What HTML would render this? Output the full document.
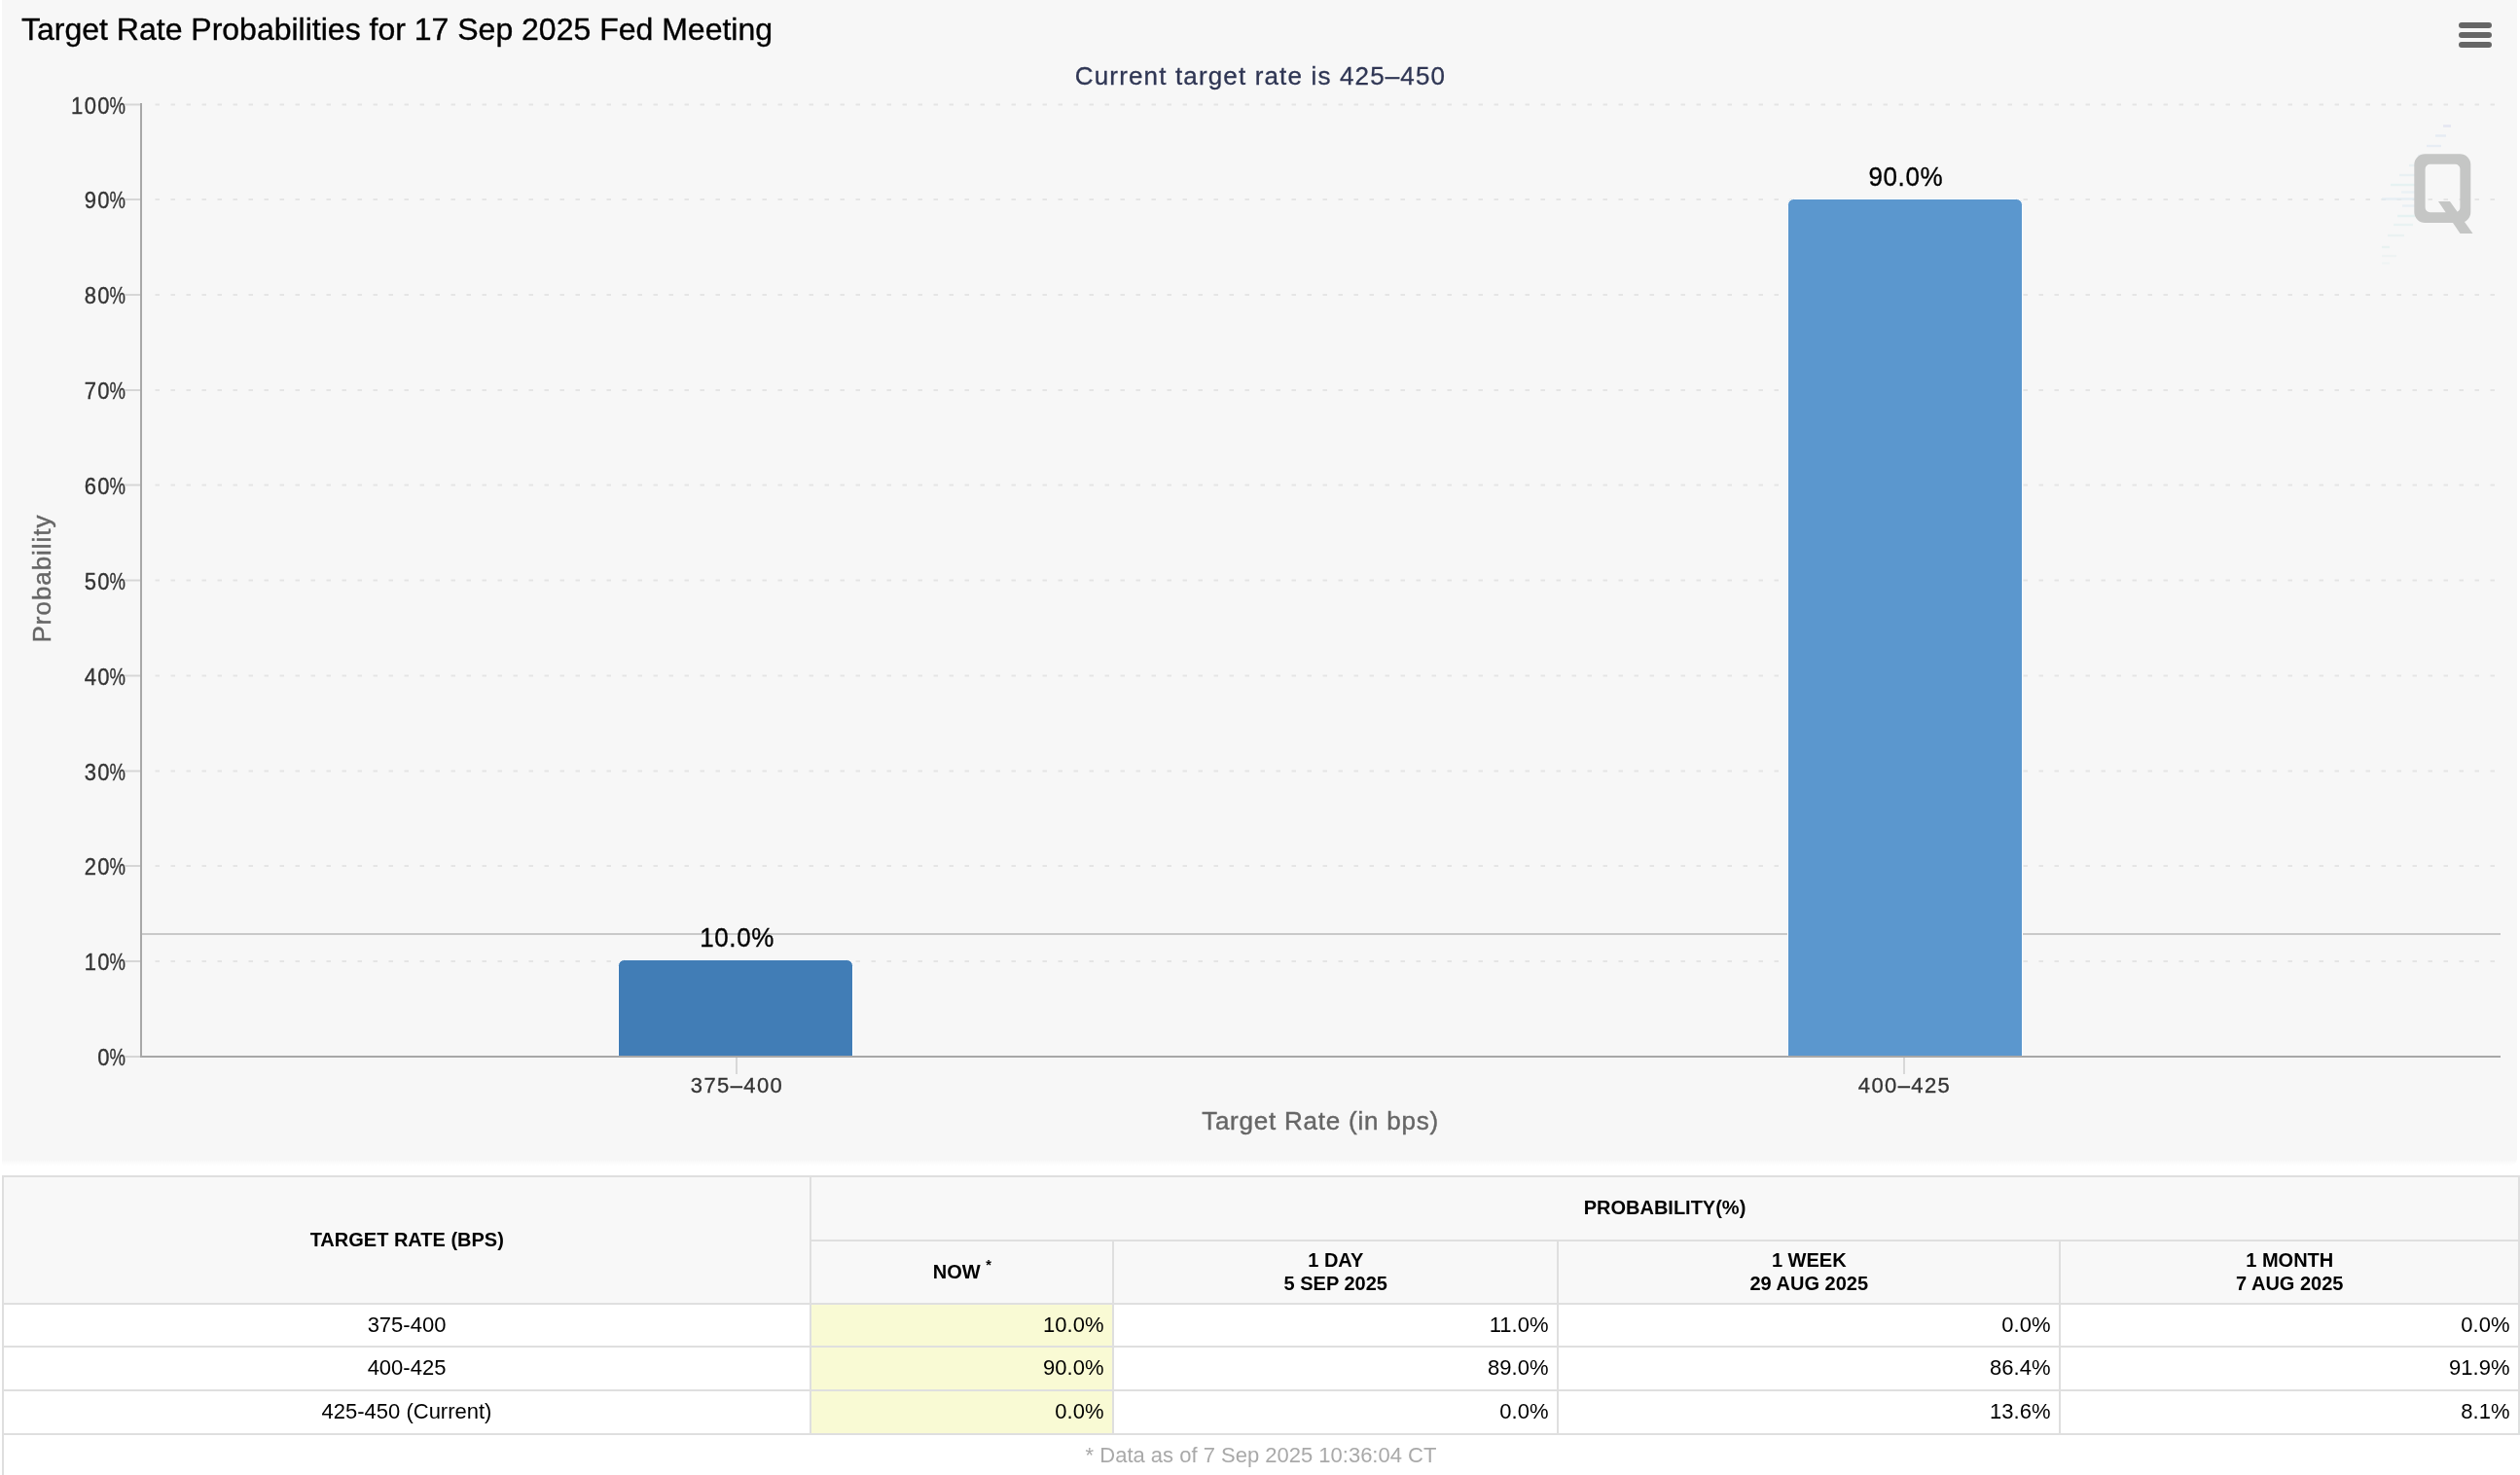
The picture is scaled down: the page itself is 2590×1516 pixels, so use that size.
<!DOCTYPE html>
<html>
<head>
<meta charset="utf-8">
<title>Target Rate Probabilities</title>
<style>
html,body{margin:0;padding:0;background:#fff;width:2590px;height:1516px;overflow:hidden;font-family:"Liberation Sans",sans-serif;}
body{width:2590px;height:1516px;overflow:hidden;position:relative;font-family:"Liberation Sans",sans-serif;}
#wrap{position:absolute;left:0;top:0;width:2590px;height:1516px;overflow:hidden;will-change:transform;}
#panel{position:absolute;left:2px;top:0;width:2584.5px;height:1198px;background:linear-gradient(to bottom,#f7f7f7 0,#f7f7f7 1192px,#fff 1198px);border-radius:0 0 7px 0;}
#chart{position:absolute;left:0;top:0;width:2590px;height:1200px;}
#chart text{font-family:"Liberation Sans",sans-serif;}
.ylab{font-size:22px;fill:#333;stroke:#333;stroke-width:0.3px;text-anchor:end;}
.xlab{font-size:22px;fill:#333;stroke:#333;stroke-width:0.3px;text-anchor:middle;letter-spacing:1.4px;}
.dl{font-size:26px;fill:#000;stroke:#000;stroke-width:0.3px;text-anchor:middle;letter-spacing:0.6px;}
.atitle{font-size:26px;fill:#666;stroke:#666;stroke-width:0.4px;text-anchor:middle;}
/* table */
#tbl{position:absolute;left:2px;top:1208px;width:2588px;height:308px;overflow:hidden;}
.c{position:absolute;box-sizing:border-box;}
.h{background:#f8f8f8;font-weight:700;font-size:20px;color:#000;text-align:center;line-height:24px;display:flex;align-items:center;justify-content:center;padding-left:2.5px;}
.d{background:#fff;font-size:22px;color:#000;line-height:41px;}
.r{text-align:right;padding-right:8.5px;}
.m{text-align:center;}
.y{background:#f9fad4;}
.ln{position:absolute;background:#dfdfdf;}
</style>
</head>
<body>
<div id="wrap">
<div id="panel"></div>
<svg id="chart" width="2590" height="1200" viewBox="0 0 2590 1200">
  <!-- gridlines -->
  <g stroke="#e5e5e5" stroke-width="2" stroke-dasharray="4.5 11.5" fill="none">
    <path d="M159.5 107.5H2570"/>
    <path d="M159.5 205H2570"/>
    <path d="M159.5 303H2570"/>
    <path d="M159.5 401H2570"/>
    <path d="M159.5 498.5H2570"/>
    <path d="M159.5 596.5H2570"/>
    <path d="M159.5 694.5H2570"/>
    <path d="M159.5 792.5H2570"/>
    <path d="M159.5 890H2570"/>
    <path d="M159.5 988H2570"/>
  </g>
  <!-- y ticks -->
  <g stroke="#d6d6d6" stroke-width="2" fill="none">
    <path d="M128 107.5H145"/><path d="M128 205H145"/><path d="M128 303H145"/><path d="M128 401H145"/><path d="M128 498.5H145"/>
    <path d="M128 596.5H145"/><path d="M128 694.5H145"/><path d="M128 792.5H145"/><path d="M128 890H145"/><path d="M128 988H145"/><path d="M128 1086H145"/>
  </g>
  <!-- odd horizontal line -->
  <path d="M145 960H2570" stroke="#c9c9c9" stroke-width="2" fill="none"/>
  <!-- bars -->
  <path d="M635.5 1086V992.5a6 6 0 0 1 6-6H870.5a6 6 0 0 1 6 6V1086Z" fill="#417db6" stroke="#fff" stroke-width="1"/>
  <path d="M1837.5 1086V210.5a6 6 0 0 1 6-6H2072.5a6 6 0 0 1 6 6V1086Z" fill="#5b97ce" stroke="#fff" stroke-width="1"/>
  <!-- axes -->
  <path d="M145 106V1087" stroke="#a8a8a8" stroke-width="2" fill="none"/>
  <path d="M144 1086H2570" stroke="#a8a8a8" stroke-width="2" fill="none"/>
  <!-- x ticks -->
  <path d="M757 1087V1104M1957 1087V1104" stroke="#d8d8d8" stroke-width="2" fill="none"/>
  <!-- title -->
  <text x="22" y="41" font-size="32" fill="#000" stroke="#000" stroke-width="0.35">Target Rate Probabilities for 17 Sep 2025 Fed Meeting</text>
  <text x="1295.5" y="87" font-size="26" fill="#2f3654" stroke="#2f3654" stroke-width="0.3" text-anchor="middle" letter-spacing="1.15">Current target rate is 425–450</text>
  <!-- y labels -->
  <g class="ylab">
    <text transform="translate(113.85 116.5) scale(1 1.06)" letter-spacing="1.35">100</text><text transform="translate(128.8 116.5) scale(0.84 1.06)">%</text>
    <text transform="translate(113.85 214) scale(1 1.06)" letter-spacing="1.35">90</text><text transform="translate(128.8 214) scale(0.84 1.06)">%</text>
    <text transform="translate(113.85 312) scale(1 1.06)" letter-spacing="1.35">80</text><text transform="translate(128.8 312) scale(0.84 1.06)">%</text>
    <text transform="translate(113.85 410) scale(1 1.06)" letter-spacing="1.35">70</text><text transform="translate(128.8 410) scale(0.84 1.06)">%</text>
    <text transform="translate(113.85 507.5) scale(1 1.06)" letter-spacing="1.35">60</text><text transform="translate(128.8 507.5) scale(0.84 1.06)">%</text>
    <text transform="translate(113.85 605.5) scale(1 1.06)" letter-spacing="1.35">50</text><text transform="translate(128.8 605.5) scale(0.84 1.06)">%</text>
    <text transform="translate(113.85 703.5) scale(1 1.06)" letter-spacing="1.35">40</text><text transform="translate(128.8 703.5) scale(0.84 1.06)">%</text>
    <text transform="translate(113.85 801.5) scale(1 1.06)" letter-spacing="1.35">30</text><text transform="translate(128.8 801.5) scale(0.84 1.06)">%</text>
    <text transform="translate(113.85 899) scale(1 1.06)" letter-spacing="1.35">20</text><text transform="translate(128.8 899) scale(0.84 1.06)">%</text>
    <text transform="translate(113.85 997) scale(1 1.06)" letter-spacing="1.35">10</text><text transform="translate(128.8 997) scale(0.84 1.06)">%</text>
    <text transform="translate(113.85 1095) scale(1 1.06)" letter-spacing="1.35">0</text><text transform="translate(128.8 1095) scale(0.84 1.06)">%</text>
  </g>
  <text class="atitle" transform="translate(52 594.5) rotate(-90)" letter-spacing="0.95">Probability</text>
  <!-- x labels -->
  <text class="xlab" transform="translate(757.5 1123) scale(1 1.03)">375–400</text>
  <text class="xlab" transform="translate(1957.5 1123) scale(1 1.03)">400–425</text>
  <text class="atitle" x="1357" y="1161" letter-spacing="0.77">Target Rate (in bps)</text>
  <!-- data labels -->
  <text class="dl" transform="translate(757.6 973) scale(1 1.05)">10.0%</text>
  <text class="dl" transform="translate(1958.8 191) scale(1 1.05)">90.0%</text>
  <!-- menu -->
  <path d="M2530 26H2558M2530 36H2558M2530 46H2558" stroke="#666" stroke-width="6" stroke-linecap="round" fill="none"/>
  <!-- watermark -->
  <g id="wm">
    <g fill="none" stroke-width="2.5" opacity="0.8"><path d="M2511 129.5H2519" stroke="#dfe2f1"/><path d="M2503 139.5H2514" stroke="#e3eaf3"/><path d="M2494 150H2509" stroke="#e4ebf4"/><path d="M2485 160H2500" stroke="#e9f0f4"/><path d="M2476 170H2482" stroke="#e6f0f3"/><path d="M2466 180H2482" stroke="#e6eff3"/><path d="M2457 190H2482" stroke="#e3f1f1"/><path d="M2468 197.5H2482" stroke="#e8f0f5"/><path d="M2448 204.5H2482" stroke="#e3edf3"/><path d="M2469 211.5H2482" stroke="#e6eff4"/><path d="M2464 222H2482" stroke="#e3f1f2"/><path d="M2460 231H2480" stroke="#e6f1f2"/><path d="M2454 242H2471" stroke="#e7f2f2"/><path d="M2448 254H2456" stroke="#e6f2ef"/><path d="M2448 263H2463" stroke="#edf3f3"/><path d="M2448 270.5H2456" stroke="#eff4f4"/></g>
    <path fill-rule="evenodd" fill="#c5c6c5" d="M2492.3 158.2H2528.3A11 11 0 0 1 2539.3 169.2V218A11 11 0 0 1 2528.3 229H2492.3A11 11 0 0 1 2481.3 218V169.2A11 11 0 0 1 2492.3 158.2ZM2497.6 168.8H2523.4A5 5 0 0 1 2528.4 173.8V213.2A5 5 0 0 1 2523.4 218.2H2497.6A5 5 0 0 1 2492.6 213.2V173.8A5 5 0 0 1 2497.6 168.8Z"/>
    <path d="M2506 207H2518L2541.5 240H2528.5Z" fill="#c5c6c5"/>
  </g>
</svg>
<div id="tbl">
<div class="c h" style="left:0px;top:0px;width:830px;height:131px">TARGET RATE (BPS)</div>
<div class="c h" style="left:830px;top:0px;width:1758px;height:66px;padding-left:0">PROBABILITY(%)</div>
<div class="c h" style="left:830px;top:66px;width:311px;height:65px"><span>NOW <sup style="font-size:14.5px;line-height:0;position:relative;top:-1px;left:0px;vertical-align:super">*</sup></span></div>
<div class="c h" style="left:1141px;top:66px;width:457px;height:65px">1 DAY<br>5 SEP 2025</div>
<div class="c h" style="left:1598px;top:66px;width:516px;height:65px">1 WEEK<br>29 AUG 2025</div>
<div class="c h" style="left:2114px;top:66px;width:472px;height:65px">1 MONTH<br>7 AUG 2025</div>
<div class="c d m" style="left:2px;top:133px;width:828px;height:42px">375-400</div>
<div class="c d r y" style="left:832px;top:133px;width:309px;height:42px">10.0%</div>
<div class="c d r" style="left:1143px;top:133px;width:455px;height:42px">11.0%</div>
<div class="c d r" style="left:1600px;top:133px;width:514px;height:42px">0.0%</div>
<div class="c d r" style="left:2116px;top:133px;width:470px;height:42px">0.0%</div>
<div class="c d m" style="left:2px;top:177px;width:828px;height:43px">400-425</div>
<div class="c d r y" style="left:832px;top:177px;width:309px;height:43px">90.0%</div>
<div class="c d r" style="left:1143px;top:177px;width:455px;height:43px">89.0%</div>
<div class="c d r" style="left:1600px;top:177px;width:514px;height:43px">86.4%</div>
<div class="c d r" style="left:2116px;top:177px;width:470px;height:43px">91.9%</div>
<div class="c d m" style="left:2px;top:222px;width:828px;height:43px">425-450 (Current)</div>
<div class="c d r y" style="left:832px;top:222px;width:309px;height:43px">0.0%</div>
<div class="c d r" style="left:1143px;top:222px;width:455px;height:43px">0.0%</div>
<div class="c d r" style="left:1600px;top:222px;width:514px;height:43px">13.6%</div>
<div class="c d r" style="left:2116px;top:222px;width:470px;height:43px">8.1%</div>
<div class="c" style="left:0;top:267px;width:2588px;height:42px;text-align:center;font-size:22px;color:#a9a9a9;line-height:41px;">* Data as of 7 Sep 2025 10:36:04 CT</div>
<div class="ln" style="left:0px;top:0px;width:2588px;height:2px"></div>
<div class="ln" style="left:830px;top:66px;width:1758px;height:2px"></div>
<div class="ln" style="left:0px;top:131px;width:2588px;height:2px"></div>
<div class="ln" style="left:0px;top:175px;width:2588px;height:2px"></div>
<div class="ln" style="left:0px;top:220px;width:2588px;height:2px"></div>
<div class="ln" style="left:0px;top:265px;width:2588px;height:2px"></div>
<div class="ln" style="left:0px;top:0px;width:2px;height:320px"></div>
<div class="ln" style="left:2586px;top:0px;width:2px;height:267px"></div>
<div class="ln" style="left:830px;top:0px;width:2px;height:267px"></div>
<div class="ln" style="left:1141px;top:66px;width:2px;height:201px"></div>
<div class="ln" style="left:1598px;top:66px;width:2px;height:201px"></div>
<div class="ln" style="left:2114px;top:66px;width:2px;height:201px"></div>
</div>
</div>
</body>
</html>
